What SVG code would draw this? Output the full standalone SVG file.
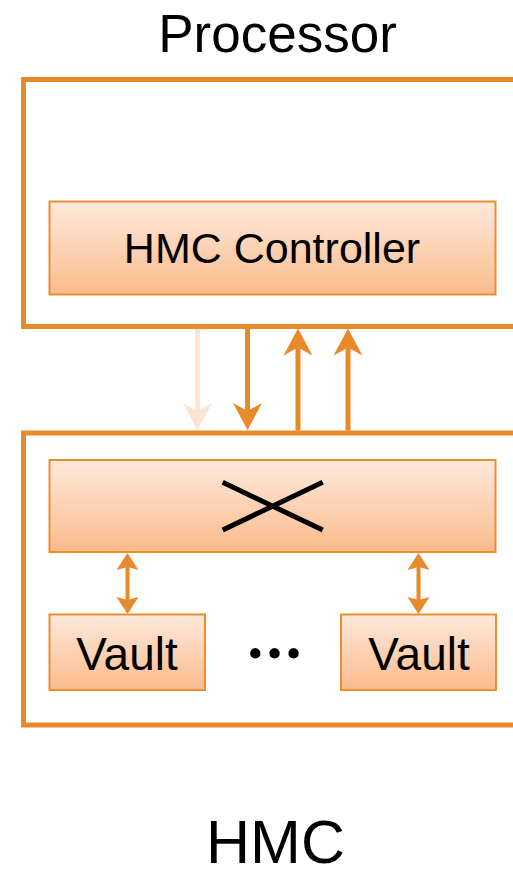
<svg xmlns="http://www.w3.org/2000/svg" width="513" height="871" viewBox="0 0 513 871">
  <style>
    .frame { fill: none; stroke: #e8892a; stroke-width: 5; }
    .block { fill: url(#blockFill); stroke: #ec8d30; stroke-width: 2; }
    .label { font-family: "Liberation Sans", Arial, sans-serif; fill: #000; text-anchor: middle; }
    .dots { font-family: Lato, "Liberation Sans", sans-serif; fill: #000; text-anchor: middle; }
    .link { stroke: #e8892a; stroke-width: 5; fill: none; }
    .link-faint { stroke: #fce4d2; stroke-width: 5; fill: none; }
    .port { stroke: #e8892a; stroke-width: 4; fill: none; }
  </style>
  <defs>
    <linearGradient id="blockFill" x1="0" y1="0" x2="0" y2="1">
      <stop offset="0" stop-color="#fde9dc"/>
      <stop offset="1" stop-color="#fbbb8c"/>
    </linearGradient>
    <!-- notched arrowheads; refX sits on the notch so the shaft stops there -->
    <marker id="head" markerUnits="userSpaceOnUse" markerWidth="28" markerHeight="30" viewBox="0 -15 28 30" refX="8" refY="0" orient="auto" overflow="visible">
      <path d="M27,0 L0,-14.5 L8,0 L0,14.5 Z" fill="#e8892a"/>
    </marker>
    <marker id="head-faint" markerUnits="userSpaceOnUse" markerWidth="28" markerHeight="30" viewBox="0 -15 28 30" refX="8" refY="0" orient="auto" overflow="visible">
      <path d="M27,0 L0,-14.5 L8,0 L0,14.5 Z" fill="#fce4d2"/>
    </marker>
    <marker id="head-small" markerUnits="userSpaceOnUse" markerWidth="18" markerHeight="24" viewBox="0 -12 18 24" refX="3" refY="0" orient="auto-start-reverse" overflow="visible">
      <path d="M17,0 L0,-11 L3,0 L0,11 Z" fill="#e8892a"/>
    </marker>
  </defs>

  <!-- titles -->
  <text class="label" x="277.5" y="52" font-size="53">Processor</text>
  <text class="label" x="275.5" y="863" font-size="61">HMC</text>

  <!-- processor package -->
  <g id="processor">
    <path class="frame" d="M520,79.5 H23.5 V326.5 H520"/>
  </g>
  <g id="hmc-controller">
    <rect class="block" x="49.5" y="201.5" width="446" height="93"/>
    <text class="label" x="272" y="263" font-size="43">HMC Controller</text>
  </g>

  <!-- memory cube -->
  <g id="hmc">
    <path class="frame" d="M520,433 H23.5 V725 H520"/>
  </g>
  <g id="crossbar">
    <rect class="block" x="49.5" y="460" width="446" height="92"/>
    <path d="M222.7,482.3 L322.7,530 M222.7,530 L322.7,482.3" stroke="#000" stroke-width="5" fill="none"/>
  </g>
  <g id="vault-left">
    <rect class="block" x="49.5" y="614.5" width="155.5" height="75.5"/>
    <text class="label" x="127" y="670" font-size="46">Vault</text>
  </g>
  <g id="vault-right">
    <rect class="block" x="341" y="614.5" width="155" height="75.5"/>
    <text class="label" x="419" y="670" font-size="46">Vault</text>
  </g>
  <g id="ellipsis">
    <text class="dots" x="276" y="658" font-size="68" font-weight="bold" letter-spacing="3">...</text>
  </g>

  <!-- links -->
  <g id="connectors">
    <line class="link-faint" x1="197.5" y1="329" x2="197.5" y2="411" marker-end="url(#head-faint)"/>
    <line class="link" x1="247.5" y1="329" x2="247.5" y2="411" marker-end="url(#head)"/>
    <line class="link" x1="298" y1="430.5" x2="298" y2="347.5" marker-end="url(#head)"/>
    <line class="link" x1="348" y1="430.5" x2="348" y2="347.5" marker-end="url(#head)"/>
    <line class="port" x1="127.5" y1="567" x2="127.5" y2="600" marker-start="url(#head-small)" marker-end="url(#head-small)"/>
    <line class="port" x1="418.5" y1="567" x2="418.5" y2="600" marker-start="url(#head-small)" marker-end="url(#head-small)"/>
  </g>
</svg>
